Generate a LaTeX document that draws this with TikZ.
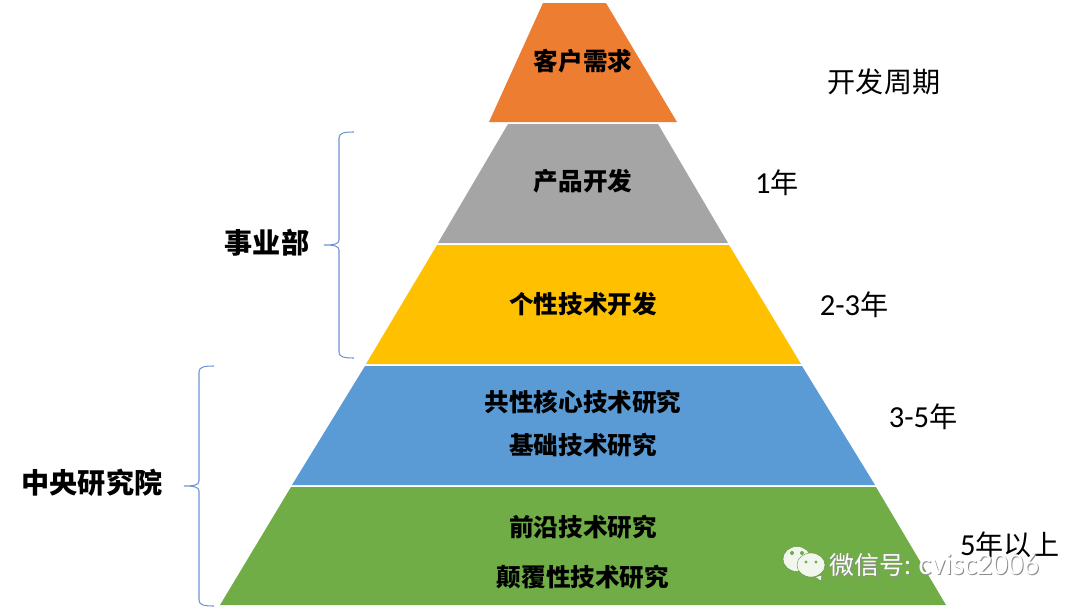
\documentclass[tikz,border=0pt]{standalone}
\usepackage{fontspec}
\setmainfont{Noto Sans CJK SC}
\newfontfamily\latinfont{Carlito}
\definecolor{orangelayer}{HTML}{ED7D31}
\definecolor{graylayer}{HTML}{A5A5A5}
\definecolor{yellowlayer}{HTML}{FFC000}
\definecolor{bluelayer}{HTML}{5B9BD5}
\definecolor{greenlayer}{HTML}{70AD47}
\definecolor{bracecolor}{HTML}{6F94D6}
\tikzset{
  layerlabel/.style={font=\fontsize{14}{14}\selectfont\bfseries,inner sep=0pt},
  sidelabel/.style={font=\fontsize{16}{16}\selectfont\bfseries,inner sep=0pt},
  yearlabel/.style={font=\fontsize{16}{16}\selectfont,inner sep=0pt},
  curlybrace/.style={draw=bracecolor,line width=0.6pt},
  bubble/.style={fill=white!90!greenlayer,draw=greenlayer!80!black,line width=0.2pt},
  marktext/.style={font=\fontsize{14.2}{15}\selectfont,text=white,inner sep=0pt},
  markshade/.style={marktext,text=black!45}
}
\newcommand{\marklabel}{微信号: {\latinfont\fontsize{17.4}{17}\selectfont cvisc2006}}
\newcommand{\yearnum}[1]{{\latinfont\fontsize{17.4}{17}\selectfont #1}}
\begin{document}
\begin{tikzpicture}[x=0.02cm,y=-0.02cm]
  \useasboundingbox (0,0) rectangle (1080,612);
  % layers
  \fill[orangelayer] (543,3) -- (606,3) -- (677,122) -- (489,122) -- cycle;
  \fill[graylayer] (508,124) -- (658,124) -- (728,243) -- (438,243) -- cycle;
  \fill[yellowlayer] (437,245) -- (729,245) -- (801,364) -- (366,364) -- cycle;
  \fill[bluelayer] (365,366) -- (802,366) -- (875,485) -- (292,485) -- cycle;
  \fill[greenlayer] (291,487) -- (876,487) -- (946,605) -- (220,605) -- cycle;
  % layer texts
  \node[layerlabel] (need) at (583,61) {客户需求};
  \node[layerlabel] (product) at (583,181) {产品开发};
  \node[layerlabel] (custom) at (583,304) {个性技术开发};
  \node[layerlabel] (common) at (583,402) {共性核心技术研究};
  \node[layerlabel] (basic) at (583,445) {基础技术研究};
  \node[layerlabel] (front) at (583,527) {前沿技术研究};
  \node[layerlabel] (disrupt) at (583,577) {颠覆性技术研究};
  % cycle times
  \node[yearlabel] (period) at (884,82) {开发周期};
  \node[yearlabel] (year1) at (777,183) {\yearnum{1}年};
  \node[yearlabel] (year2) at (854,305) {\yearnum{2-3}年};
  \node[yearlabel] (year3) at (923,417) {\yearnum{3-5}年};
  \node[yearlabel] (year5) at (1010,545) {\yearnum{5}年以上};
  % braces
  \node[sidelabel] (division) at (267,243) {事业部};
  \node[sidelabel] (institute) at (92,483) {中央研究院};
  \draw[curlybrace] (354,132) .. controls (344,132) and (339,133) .. (339,138)
    -- (339,240) .. controls (339,244) and (334,245) .. (324,245)
    .. controls (334,245) and (339,246) .. (339,250)
    -- (339,352) .. controls (339,357) and (344,358) .. (354,358);
  \draw[curlybrace] (214,366) .. controls (204,366) and (199,367) .. (199,372)
    -- (199,481) .. controls (199,485) and (194,486) .. (184,486)
    .. controls (194,486) and (199,487) .. (199,491)
    -- (199,600) .. controls (199,605) and (204,606) .. (214,606);
  % watermark
  \fill[bubble] (784,563) -- (789,570) -- (791,565) -- cycle;
  \draw[bubble] (797,559) ellipse (14 and 12.5);
  \fill[bubble] (822,575) -- (821,581) -- (815,577) -- cycle;
  \draw[bubble] (811,565) ellipse (14 and 12);
  \foreach \x/\y/\r in {792/553/2,802/553/2,806/562/1.7,816/562/1.7}
    \fill[greenlayer] (\x,\y) circle (\r);
  \node[markshade,anchor=west] (markshadow) at (830,566) {\marklabel};
  \node[marktext,anchor=west] (mark) at (829,565) {\marklabel};
\end{tikzpicture}
\end{document}
